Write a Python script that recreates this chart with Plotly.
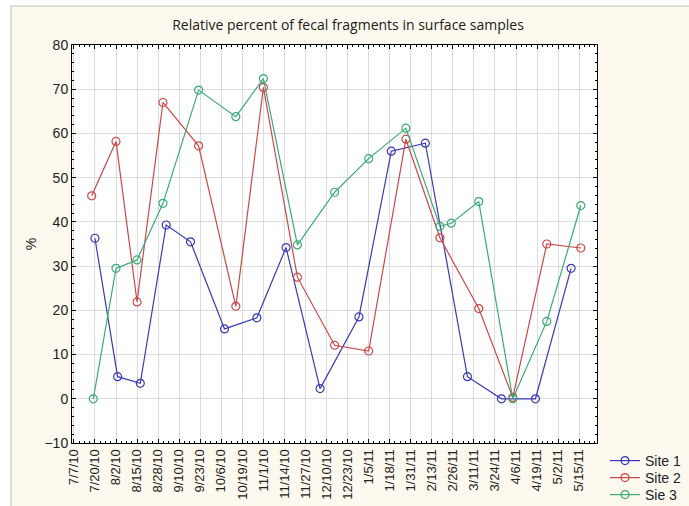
import pandas as pd
import plotly.graph_objects as go

site1_dates = ["2010-07-20", "2010-08-03", "2010-08-17", "2010-09-02", "2010-09-17", "2010-10-08",
               "2010-10-28", "2010-11-15", "2010-12-06", "2010-12-30", "2011-01-19", "2011-02-09",
               "2011-03-07", "2011-03-28", "2011-04-18", "2011-05-10"]
site1_vals = [36.3, 5.0, 3.5, 39.3, 35.5, 15.8, 18.3, 34.2, 2.3, 18.5, 56.0, 57.8, 5.0, 0.0, 0.0, 29.5]

site2_dates = ["2010-07-18", "2010-08-02", "2010-08-15", "2010-08-31", "2010-09-22", "2010-10-15",
               "2010-11-01", "2010-11-22", "2010-12-15", "2011-01-05", "2011-01-28", "2011-02-18",
               "2011-03-14", "2011-04-04", "2011-04-25", "2011-05-16"]
site2_vals = [45.9, 58.2, 21.9, 67.0, 57.2, 20.9, 70.4, 27.5, 12.1, 10.8, 58.7, 36.4, 20.4, 0.3, 35.0, 34.1]

site3_dates = ["2010-07-19", "2010-08-02", "2010-08-15", "2010-08-31", "2010-09-22", "2010-10-15",
               "2010-11-01", "2010-11-22", "2010-12-15", "2011-01-05", "2011-01-28", "2011-02-18",
               "2011-02-25", "2011-03-14", "2011-04-04", "2011-04-25", "2011-05-16"]
site3_vals = [0.0, 29.5, 31.4, 44.2, 69.8, 63.8, 72.4, 34.8, 46.7, 54.3, 61.2, 39.0, 39.7, 44.6, 0.0, 17.5, 43.7]

tick_labels = ["7/7/10", "7/20/10", "8/2/10", "8/15/10", "8/28/10", "9/10/10", "9/23/10", "10/6/10",
               "10/19/10", "11/1/10", "11/14/10", "11/27/10", "12/10/10", "12/23/10", "1/5/11", "1/18/11",
               "1/31/11", "2/13/11", "2/26/11", "3/11/11", "3/24/11", "4/6/11", "4/19/11", "5/2/11", "5/15/11"]
tick_vals = pd.to_datetime(tick_labels, format="%m/%d/%y")

series = [
    ("Site 1", site1_dates, site1_vals, "#3a3ab8", "legend"),
    ("Site 2", site2_dates, site2_vals, "#cc4848", "legend2"),
    ("Sie 3", site3_dates, site3_vals, "#3aaa78", "legend3"),
]

fig = go.Figure()
for name, d, v, c, lg in series:
    fig.add_trace(go.Scatter(
        x=pd.to_datetime(d), y=v, name=name, mode="lines+markers", legend=lg,
        line=dict(color=c, width=1.2),
        marker=dict(symbol="circle-open", size=8, color=c, line=dict(width=1.2, color=c)),
    ))

H_PLOT = 398.0
W_PLOT = 525.0
def legend_at(row_y):
    return dict(x=(605 - 597) / W_PLOT + 1, xanchor="left", y=(443 - row_y) / H_PLOT, yanchor="middle",
                bgcolor="rgba(0,0,0,0)",
                font=dict(family="Liberation Sans, Arial, sans-serif", size=14, color="#222222"),
                itemwidth=30)

axis_font = dict(family="Liberation Sans, Arial, sans-serif", size=14, color="#222222")
fig.update_layout(
    width=689, height=506,
    margin=dict(l=72, r=92, t=45, b=63, autoexpand=False),
    paper_bgcolor="#ffffff",
    plot_bgcolor="#ffffff",
    title=dict(text="Relative percent of fecal fragments in surface samples",
               x=(348 / 689), xanchor="center", y=1 - 25 / 506, yanchor="middle",
               font=dict(family="Open Sans, sans-serif", size=14, color="#1a1a1a")),
    showlegend=True,
    legend=legend_at(461),
    legend2=legend_at(478),
    legend3=legend_at(495),
    xaxis=dict(
        range=["2010-07-05T20:00", "2011-05-26"],
        tickmode="array", tickvals=tick_vals, ticktext=tick_labels,
        tickangle=-90, tickfont=dict(family="Liberation Sans, Arial, sans-serif", size=13, color="#222222"),
        showgrid=True, gridcolor="#dcdcdc", gridwidth=1,
        showline=True, linecolor="#000000", linewidth=1, mirror="allticks",
        ticks="inside", ticklen=4, tickcolor="#000000",
        minor=dict(ticks="inside", ticklen=2, tickcolor="#000000", dtick=13 * 86400000 / 4,
                   tick0="2010-07-07", showgrid=False),
        zeroline=False, automargin=False,
    ),
    yaxis=dict(
        range=[-10, 80], dtick=10, tick0=0,
        tickfont=axis_font,
        title=dict(text="%", font=axis_font, standoff=4),
        showgrid=True, gridcolor="#dcdcdc", gridwidth=1,
        showline=True, linecolor="#000000", linewidth=1, mirror="allticks",
        ticks="inside", ticklen=4, tickcolor="#000000",
        minor=dict(ticks="inside", ticklen=2, tickcolor="#000000", dtick=2, showgrid=False),
        zeroline=False, automargin=False,
    ),
)

# cream page panel with a thin grey frame, then the white plot area on top of it
fig.add_shape(type="rect", xref="paper", yref="paper",
              x0=(11 - 72) / W_PLOT, x1=(720 - 72) / W_PLOT, y0=(443 - 540) / H_PLOT, y1=(443 - 6) / H_PLOT,
              line=dict(color="#c0c0c0", width=1), fillcolor="#fdf9ef", layer="below")
fig.add_shape(type="rect", xref="paper", yref="paper", x0=0, x1=1, y0=0, y1=1,
              line=dict(width=0), fillcolor="#ffffff", layer="below")

fig.write_html("out.html", config={"displayModeBar": False},
               post_script="document.body.style.margin='0';")
